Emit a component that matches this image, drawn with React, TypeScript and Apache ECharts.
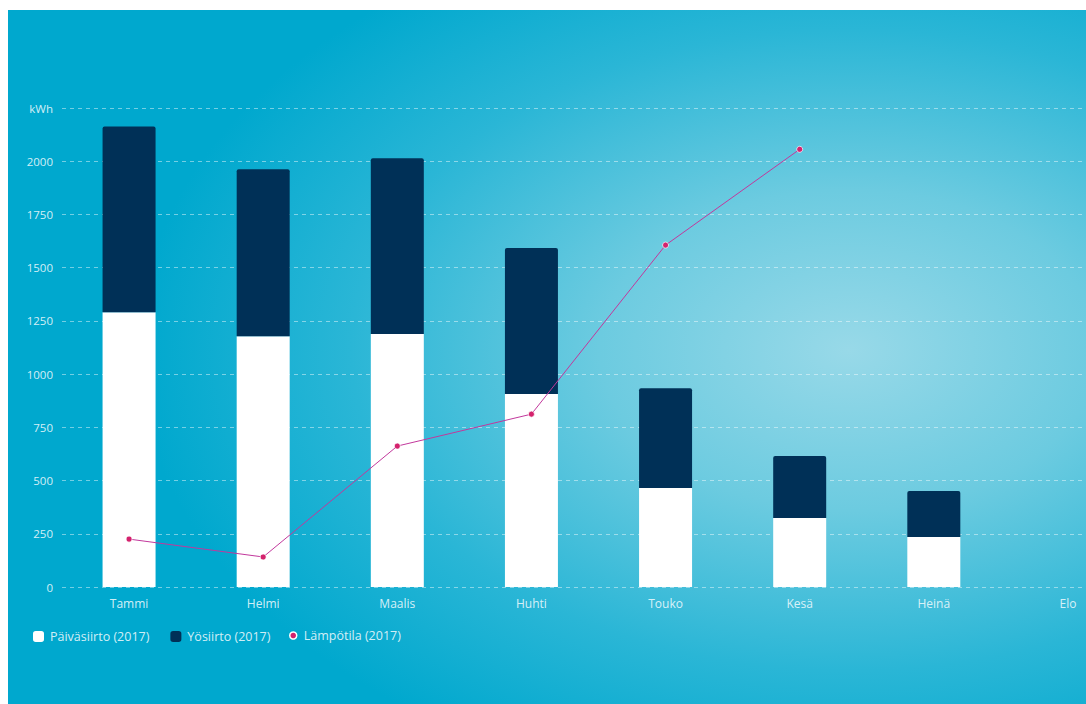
import React, { useEffect, useRef } from "react";
import * as echarts from "echarts";

const months = ["Tammi", "Helmi", "Maalis", "Huhti", "Touko", "Kesä", "Heinä", "Elo"];
const dayTransfer = [1290, 1178, 1188, 906, 465, 324, 235, null];
const nightTransfer = [873, 784, 826, 686, 469, 291, 216, null];
const temperature = [225, 141, 662, 812, 1606, 2056, null, null];
const yTicks = [0, 250, 500, 750, 1000, 1250, 1500, 1750, 2000, 2250];
const unitLabel = "kWh";

const FONT = "'Open Sans', 'Noto Sans', sans-serif";
const LABEL = "rgba(235,248,252,0.9)";

export default function App() {
  const ref = useRef<HTMLDivElement>(null);
  useEffect(() => {
    if (!ref.current) return;
    const chart = echarts.init(ref.current, undefined, { renderer: "svg" });
    const yMax = yTicks[yTicks.length - 1];
    chart.setOption({
      animation: false,
      backgroundColor: new echarts.graphic.RadialGradient(0.78, 0.49, 0.66, [
        { offset: 0, color: "#98d9e8" },
        { offset: 0.35, color: "#6ccbe0" },
        { offset: 0.7, color: "#2ab6d6" },
        { offset: 1, color: "#00a8ce" },
      ]),
      textStyle: { fontFamily: FONT },
      grid: {
        left: 54,
        top: 98,
        bottom: 117,
        width: 1073,
        containLabel: false,
        outerBoundsMode: "none",
      },
      legend: [
        {
          left: 20,
          top: 615,
          itemWidth: 11,
          itemHeight: 11,
          itemGap: 21,
          icon: "roundRect",
          textStyle: { color: LABEL, fontSize: 12.5, fontFamily: FONT, padding: [0, 0, 0, 1] },
          data: ["Päiväsiirto (2017)", "Yösiirto (2017)"],
        },
        {
          left: 276,
          top: 614,
          itemWidth: 7,
          itemHeight: 7,
          textStyle: { color: LABEL, fontSize: 12.5, fontFamily: FONT, padding: [0, 0, 0, 2] },
          data: [
            {
              name: "Lämpötila (2017)",
              icon: "circle",
              itemStyle: { color: "#d4226d", borderColor: "#ffffff", borderWidth: 1.5 },
            },
          ],
        },
      ],
      xAxis: {
        type: "category",
        data: months,
        axisLine: { show: false },
        axisTick: { show: false },
        axisLabel: { color: LABEL, fontSize: 12, margin: 10, fontFamily: FONT },
      },
      yAxis: {
        type: "value",
        min: 0,
        max: yMax,
        interval: 250,
        axisLine: { show: false },
        axisTick: { show: false },
        axisLabel: {
          color: LABEL,
          fontSize: 11.5,
          margin: 9,
          fontFamily: FONT,
          formatter: (v: number) => (v === yMax ? unitLabel : String(v)),
        },
        splitLine: {
          lineStyle: { color: "rgba(255,255,255,0.45)", type: [4, 4], width: 1 },
        },
      },
      series: [
        {
          name: "Päiväsiirto (2017)",
          type: "bar",
          stack: "kwh",
          barWidth: 53,
          data: dayTransfer,
          itemStyle: { color: "#ffffff" },
        },
        {
          name: "Yösiirto (2017)",
          type: "bar",
          stack: "kwh",
          barWidth: 53,
          data: nightTransfer,
          itemStyle: { color: "#003057", borderRadius: [2, 2, 0, 0] },
        },
        {
          name: "Lämpötila (2017)",
          type: "line",
          data: temperature,
          symbol: "circle",
          symbolSize: 6,
          z: 5,
          lineStyle: { color: "#c2389c", width: 1 },
          itemStyle: { color: "#d4226d", borderColor: "rgba(255,255,255,0.7)", borderWidth: 1 },
        },
      ],
    });
    return () => chart.dispose();
  }, []);
  return (
    <div
      ref={ref}
      style={{ position: "absolute", left: 8, top: 10, width: 1078, height: 694 }}
    />
  );
}
